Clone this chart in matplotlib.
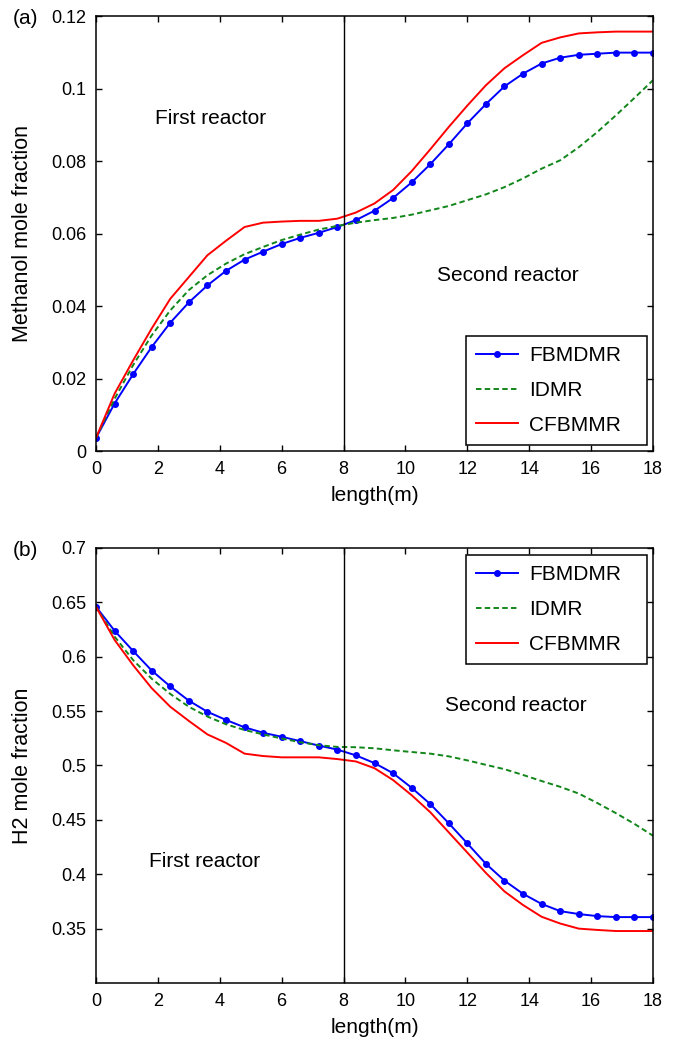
import matplotlib
matplotlib.use("Agg")
import matplotlib.pyplot as plt
import numpy as np

plt.rcParams["font.family"] = ["Liberation Sans", "DejaVu Sans"]

length = np.round(np.arange(0, 18.01, 0.6), 1)

# (a) methanol mole fraction
meoh_fbmdmr = [0.0036, 0.0131, 0.0212, 0.0287, 0.0354, 0.0410, 0.0457, 0.0497, 0.0528, 0.0550,
               0.0571, 0.0588, 0.0602, 0.0618, 0.0637, 0.0663, 0.0698, 0.0741, 0.0791, 0.0846,
               0.0904, 0.0957, 0.1006, 0.1041, 0.1069, 0.1085, 0.1093, 0.1096, 0.1099, 0.1099, 0.1099]
meoh_idmr = [0.0036, 0.0144, 0.0237, 0.0319, 0.0388, 0.0444, 0.0485, 0.0517, 0.0543, 0.0563,
             0.0582, 0.0597, 0.0611, 0.0621, 0.0630, 0.0637, 0.0643, 0.0652, 0.0664, 0.0676,
             0.0692, 0.0708, 0.0728, 0.0752, 0.0779, 0.0802, 0.0838, 0.0880, 0.0926, 0.0974, 0.1023]
meoh_cfbmmr = [0.0036, 0.0158, 0.0250, 0.0338, 0.0420, 0.0480, 0.0540, 0.0580, 0.0618, 0.0630,
               0.0633, 0.0635, 0.0635, 0.0641, 0.0658, 0.0683, 0.0720, 0.0772, 0.0832, 0.0894,
               0.0953, 0.1009, 0.1056, 0.1092, 0.1126, 0.1141, 0.1152, 0.1155, 0.1157, 0.1157, 0.1157]

# (b) H2 mole fraction
h2_fbmdmr = [0.646, 0.6239, 0.6053, 0.5873, 0.5727, 0.5596, 0.5494, 0.5419, 0.5351, 0.5301,
             0.5264, 0.5224, 0.5183, 0.5146, 0.5093, 0.5022, 0.4929, 0.4795, 0.4646, 0.4469,
             0.4283, 0.4096, 0.3941, 0.3820, 0.3727, 0.3661, 0.3634, 0.3615, 0.3606, 0.3606, 0.3606]
h2_idmr = [0.646, 0.6186, 0.5969, 0.5798, 0.5658, 0.5540, 0.5450, 0.5379, 0.5326, 0.5286,
           0.5248, 0.5214, 0.5186, 0.5171, 0.5168, 0.5158, 0.5140, 0.5124, 0.5109, 0.5084,
           0.5047, 0.5006, 0.4966, 0.4913, 0.4857, 0.4804, 0.4742, 0.4655, 0.4562, 0.4463, 0.4354]
h2_cfbmmr = [0.646, 0.6155, 0.5922, 0.5711, 0.5540, 0.5410, 0.5286, 0.5208, 0.5109, 0.5087,
             0.5075, 0.5075, 0.5075, 0.5059, 0.5037, 0.4975, 0.4866, 0.4727, 0.4571, 0.4385,
             0.4199, 0.4012, 0.3842, 0.3717, 0.3609, 0.3547, 0.3500, 0.3488, 0.3478, 0.3478, 0.3478]

series_names = ["FBMDMR", "IDMR", "CFBMMR"]
reactor_split = 8


def draw_panel(ax, fb, idmr, cfb):
    ax.plot(length, fb, color="#0000ff", marker="o", markersize=4, linewidth=1.4, label=series_names[0])
    ax.plot(length, idmr, color="#11861a", linestyle=(0, (2.8, 1.7)), linewidth=1.4, label=series_names[1])
    ax.plot(length, cfb, color="#ff0000", linewidth=1.4, label=series_names[2])
    ax.axvline(reactor_split, color="black", linewidth=1.0)
    ax.set_xlim(0, 18)
    ax.set_xticks(np.arange(0, 19, 2))
    ax.tick_params(direction="in", top=True, right=True, length=4, labelsize=13, pad=7, width=1.0)
    ax.set_xlabel("length(m)", fontsize=15, labelpad=6)
    for spine in ax.spines.values():
        spine.set_linewidth(1.1)


def add_legend(ax, loc, anchor):
    leg = ax.legend(loc=loc, bbox_to_anchor=anchor, mode="expand", borderaxespad=0,
                    fontsize=15, fancybox=False, edgecolor="black", framealpha=1,
                    handlelength=2.0, handletextpad=0.55, labelspacing=0.76, borderpad=0.5)
    leg.get_frame().set_linewidth(1.1)


fig = plt.figure(figsize=(6.76, 10.4), dpi=100, facecolor="white")

ax1 = fig.add_axes([0.142, 0.5663, 0.824, 0.4183])
draw_panel(ax1, meoh_fbmdmr, meoh_idmr, meoh_cfbmmr)
ax1.set_ylim(0, 0.12)
ax1.set_yticks([0, 0.02, 0.04, 0.06, 0.08, 0.1, 0.12])
ax1.set_yticklabels(["0", "0.02", "0.04", "0.06", "0.08", "0.1", "0.12"])
ax1.set_ylabel("Methanol mole fraction", fontsize=15.5)
ax1.yaxis.set_label_coords(-0.113, 0.5)
ax1.text(3.7, 0.0917, "First reactor", fontsize=15, ha="center", va="center")
ax1.text(13.3, 0.0485, "Second reactor", fontsize=15, ha="center", va="center")
add_legend(ax1, "lower left", (0.664, 0.0138, 0.325, 0.3))
fig.text(0.019, 1 - 18 / 1040, "(a)", fontsize=15, ha="left", va="center")

ax2 = fig.add_axes([0.142, 0.0548, 0.824, 0.4183])
draw_panel(ax2, h2_fbmdmr, h2_idmr, h2_cfbmmr)
ax2.set_ylim(0.3, 0.7)
ax2.set_yticks([0.35, 0.4, 0.45, 0.5, 0.55, 0.6, 0.65, 0.7])
ax2.set_yticklabels(["0.35", "0.4", "0.45", "0.5", "0.55", "0.6", "0.65", "0.7"])
ax2.set_ylabel("H2 mole fraction", fontsize=15.5)
ax2.yaxis.set_label_coords(-0.113, 0.5)
ax2.text(3.5, 0.412, "First reactor", fontsize=15, ha="center", va="center")
ax2.text(13.57, 0.555, "Second reactor", fontsize=15, ha="center", va="center")
add_legend(ax2, "upper left", (0.664, 0.684, 0.325, 0.3))
fig.text(0.019, 1 - 550 / 1040, "(b)", fontsize=15, ha="left", va="center")

fig.savefig("out.png", dpi=100, facecolor="white")
